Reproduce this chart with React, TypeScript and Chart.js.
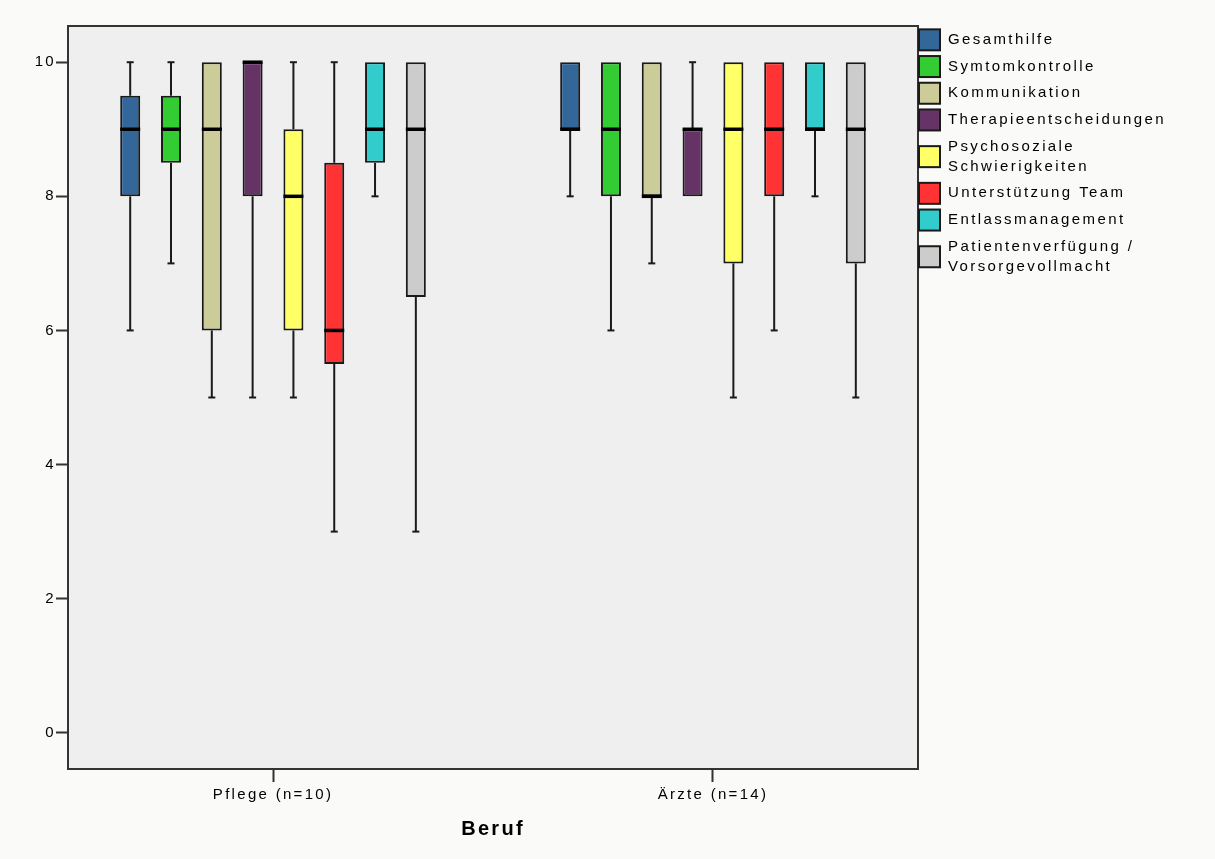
import React, { useEffect, useRef } from 'react';
import { Chart, registerables } from 'chart.js';

Chart.register(...registerables);

// ---- data ----
const GROUPS = ['Pflege (n=10)', 'Ärzte (n=14)'];
const GROUP_POS = [0, 1];
const SERIES = [
  'Gesamthilfe',
  'Symtomkontrolle',
  'Kommunikation',
  'Therapieentscheidungen',
  'Psychosoziale Schwierigkeiten',
  'Unterstützung Team',
  'Entlassmanagement',
  'Patientenverfügung / Vorsorgevollmacht',
];
const LEGEND_LINES = [
  ['Gesamthilfe'],
  ['Symtomkontrolle'],
  ['Kommunikation'],
  ['Therapieentscheidungen'],
  ['Psychosoziale', 'Schwierigkeiten'],
  ['Unterstützung Team'],
  ['Entlassmanagement'],
  ['Patientenverfügung /', 'Vorsorgevollmacht'],
];
const COLORS = ['#336699', '#33CC33', '#CCCC99', '#663366', '#FFFF66', '#FF3333', '#33CCCC', '#CCCCCC'];
// each row: [Pflege, Ärzte]
const MIN = [[6, 8], [7, 6], [5, 7], [5, 8], [5, 5], [3, 6], [8, 8], [3, 5]];
const Q1 = [[8, 9], [8.5, 8], [6, 8], [8, 8], [6, 7], [5.5, 8], [8.5, 9], [6.5, 7]];
const MEDIAN = [[9, 9], [9, 9], [9, 8], [10, 9], [8, 9], [6, 9], [9, 9], [9, 9]];
const Q3 = [[9.5, 10], [9.5, 10], [10, 10], [10, 9], [9, 10], [8.5, 10], [10, 10], [10, 10]];
const MAX = [[10, 10], [10, 10], [10, 10], [10, 10], [10, 10], [10, 10], [10, 10], [10, 10]];
const Y_TICKS = [0, 2, 4, 6, 8, 10];
const X_TITLE = 'Beruf';

const FONT = '"Liberation Sans", Arial, sans-serif';
const AXIS_COLOR = '#333333';
const LINE_COLOR = '#1a1a1a';

const spacingPlugin = {
  id: 'spacing',
  beforeUpdate(chart: any) { chart.ctx.letterSpacing = '2.3px'; },
  beforeLayout(chart: any) { chart.ctx.letterSpacing = '2.3px'; },
  beforeDraw(chart: any) { chart.ctx.letterSpacing = '2.3px'; },
};

const boxPlugin = {
  id: 'boxplot',
  beforeDraw(chart: any) {
    const { ctx, chartArea: a, width, height } = chart;
    ctx.save();
    ctx.fillStyle = '#fafaf8';
    ctx.fillRect(0, 0, width, height);
    ctx.fillStyle = '#efefef';
    ctx.fillRect(a.left, a.top, a.right - a.left, a.bottom - a.top);
    ctx.restore();
  },
  beforeDatasetsDraw(chart: any) {
    const { ctx } = chart;
    const y = chart.scales.y;
    ctx.save();
    ctx.strokeStyle = LINE_COLOR;
    ctx.lineWidth = 2;
    chart.data.datasets.forEach((_: any, i: number) => {
      const meta = chart.getDatasetMeta(i);
      meta.data.forEach((bar: any, j: number) => {
        const { x } = bar.getProps(['x'], true);
        const pairs = [[MIN[i][j], Q1[i][j]], [Q3[i][j], MAX[i][j]]];
        pairs.forEach(([from, to]) => {
          if (from === to) return;
          ctx.beginPath();
          ctx.moveTo(x, y.getPixelForValue(from));
          ctx.lineTo(x, y.getPixelForValue(to));
          ctx.stroke();
        });
        [MIN[i][j], MAX[i][j]].forEach((v, k) => {
          if ((k === 0 && v === Q1[i][j]) || (k === 1 && v === Q3[i][j])) return;
          const p = y.getPixelForValue(v);
          ctx.beginPath();
          ctx.moveTo(x - 3.5, p);
          ctx.lineTo(x + 3.5, p);
          ctx.stroke();
        });
      });
    });
    ctx.restore();
  },
  afterDatasetsDraw(chart: any) {
    const { ctx } = chart;
    const y = chart.scales.y;
    ctx.save();
    ctx.strokeStyle = '#000';
    ctx.lineWidth = 3.5;
    chart.data.datasets.forEach((_: any, i: number) => {
      const meta = chart.getDatasetMeta(i);
      meta.data.forEach((bar: any, j: number) => {
        const { x, width } = bar.getProps(['x', 'width'], true);
        const p = y.getPixelForValue(MEDIAN[i][j]);
        ctx.beginPath();
        ctx.moveTo(x - width / 2, p);
        ctx.lineTo(x + width / 2, p);
        ctx.stroke();
      });
    });
    ctx.restore();
  },
  afterDraw(chart: any) {
    const { ctx, chartArea: a } = chart;
    ctx.save();
    ctx.strokeStyle = AXIS_COLOR;
    ctx.lineWidth = 2;
    ctx.beginPath();
    ctx.moveTo(a.left, a.top);
    ctx.lineTo(a.right, a.top);
    ctx.lineTo(a.right, a.bottom);
    ctx.stroke();

    // legend
    ctx.letterSpacing = '2.4px';
    ctx.font = '15px ' + FONT;
    ctx.textBaseline = 'middle';
    ctx.textAlign = 'left';
    let top = a.top + 0.5;
    const lineH = 20;
    LEGEND_LINES.forEach((lines, i) => {
      const h = 6.7 + lineH * lines.length;
      const cy = top + h / 2;
      ctx.fillStyle = COLORS[i];
      ctx.fillRect(a.right + 1, cy - 10.5, 21, 21);
      ctx.strokeStyle = LINE_COLOR;
      ctx.lineWidth = 2;
      ctx.strokeRect(a.right + 1, cy - 10.5, 21, 21);
      ctx.fillStyle = '#000';
      lines.forEach((t, k) => {
        const ly = cy + (k - (lines.length - 1) / 2) * lineH;
        ctx.fillText(t, a.right + 30, ly);
      });
      top += h;
    });
    ctx.restore();
  },
};

export default function App() {
  const ref = useRef<HTMLCanvasElement | null>(null);

  useEffect(() => {
    if (!ref.current) return;
    const datasets = SERIES.map((name, i) => ({
      label: name,
      data: GROUP_POS.map((gx, j) => ({ x: gx, y: [Q1[i][j], Q3[i][j]] })),
      backgroundColor: COLORS[i],
      borderColor: LINE_COLOR,
      borderWidth: 2,
      borderSkipped: false,
      categoryPercentage: 0.742,
      barPercentage: 0.49,
    }));

    const chart = new Chart(ref.current, {
      type: 'bar',
      data: { datasets },
      plugins: [spacingPlugin, boxPlugin],
      options: {
        responsive: false,
        animation: false,
        devicePixelRatio: 1,
        layout: { padding: { top: 26, right: 297, bottom: 0, left: 0 } },
        plugins: { legend: { display: false }, tooltip: { enabled: false } },
        scales: {
          x: {
            type: 'linear',
            min: -0.466,
            max: 1.466,
            offset: false,
            afterBuildTicks: (s: any) => { s.ticks = GROUP_POS.map((v) => ({ value: v })); },
            afterFit: (s: any) => { s.height = 90; },
            grid: {
              offset: false,
              drawOnChartArea: false,
              drawTicks: true,
              tickLength: 13,
              tickWidth: 2,
              tickColor: AXIS_COLOR,
            },
            border: { display: true, color: AXIS_COLOR, width: 2 },
            ticks: {
              autoSkip: false,
              maxRotation: 0,
              padding: 4,
              color: '#000',
              font: { family: FONT, size: 15 },
              callback: (v: any) => GROUPS[Math.round(Number(v))] ?? '',
            },
            title: {
              display: true,
              text: X_TITLE,
              color: '#000',
              font: { family: FONT, size: 20, weight: 'bold' },
              padding: { top: 0, bottom: 18 },
            },
          },
          y: {
            type: 'linear',
            min: -0.54,
            max: 10.54,
            afterBuildTicks: (s: any) => { s.ticks = Y_TICKS.map((v) => ({ value: v })); },
            afterFit: (s: any) => { s.width = 68; },
            grid: {
              drawOnChartArea: false,
              drawTicks: true,
              tickLength: 12,
              tickWidth: 2,
              tickColor: AXIS_COLOR,
            },
            border: { display: true, color: AXIS_COLOR, width: 2 },
            ticks: {
              padding: 0,
              color: '#000',
              font: { family: FONT, size: 15 },
              callback: (v: any) => String(v),
            },
          },
        },
      } as any,
    });
    return () => chart.destroy();
  }, []);

  return (
    <div style={{ position: 'absolute', left: 0, top: 0, width: 1215, height: 859 }}>
      <canvas ref={ref} width={1215} height={859} style={{ display: 'block' }} />
    </div>
  );
}
